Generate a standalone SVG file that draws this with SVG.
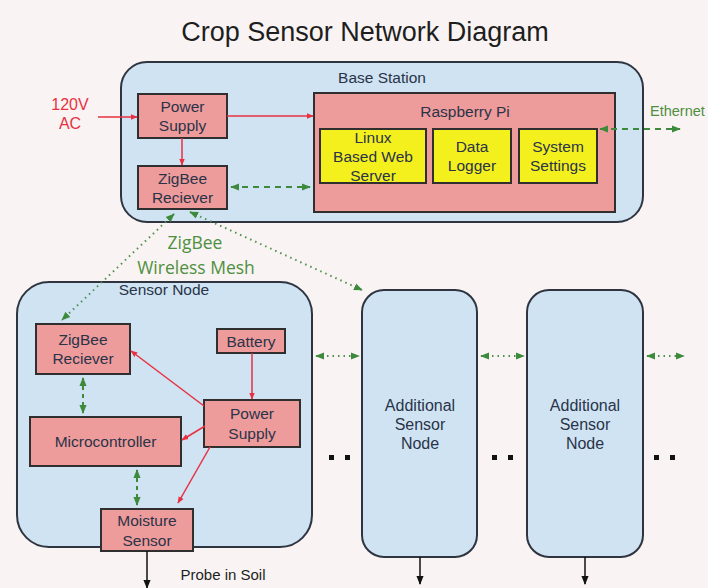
<svg xmlns="http://www.w3.org/2000/svg" width="708" height="588" viewBox="0 0 708 588">
<defs>
<style>
.t{font-family:"Liberation Sans",Arial,sans-serif;fill:#2a3348;text-anchor:middle;font-size:15.5px}
.cont{fill:#cfe3f3;stroke:#2f3540;stroke-width:2}
.box{fill:#ee9b9b;stroke:#2f2f2f;stroke-width:2}
.yel{fill:#f4f01e;stroke:#2f2f2f;stroke-width:2}
.red{stroke:#e83040;stroke-width:1.5;fill:none;marker-end:url(#ar)}
.grd{stroke:#3d8a3d;stroke-width:2;fill:none;stroke-dasharray:6 5;marker-end:url(#ag);marker-start:url(#ag)}
.gdot{stroke:#4f8f4f;stroke-width:2;fill:none;stroke-dasharray:1.5 4;marker-end:url(#ag);marker-start:url(#ag)}
.blk{stroke:#111;stroke-width:1.5;fill:none;marker-end:url(#ab)}
.g{font-family:"Open Sans","Liberation Sans",sans-serif;fill:#4f8f3f;text-anchor:middle;font-size:17.5px}
</style>
<marker id="ar" viewBox="0 0 10 10" refX="9" refY="5" markerWidth="7" markerHeight="7" markerUnits="userSpaceOnUse" orient="auto-start-reverse"><path d="M0,1 L10,5 L0,9 z" fill="#e83040"/></marker>
<marker id="ag" viewBox="0 0 10 10" refX="9" refY="5" markerWidth="9" markerHeight="9" markerUnits="userSpaceOnUse" orient="auto-start-reverse"><path d="M0,1 L10,5 L0,9 z" fill="#3d8a3d"/></marker>
<marker id="ab" viewBox="0 0 10 10" refX="9" refY="5" markerWidth="9" markerHeight="9" markerUnits="userSpaceOnUse" orient="auto-start-reverse"><path d="M0,1 L10,5 L0,9 z" fill="#111"/></marker>
</defs>
<rect width="708" height="588" fill="#f9f4f3"/>
<text x="365" y="41" class="t" style="font-size:27px;fill:#1e1e1e">Crop Sensor Network Diagram</text>

<g id="base-station">
<rect x="121" y="62" width="522" height="160" rx="26" class="cont"/>
<text x="382" y="83" class="t" style="font-size:15.5px">Base Station</text>
</g>
<g id="power-supply-base">
<rect x="138" y="94" width="89" height="44" class="box"/>
<text x="182.5" y="112" class="t">Power</text>
<text x="182.5" y="131" class="t">Supply</text>
</g>
<g id="zigbee-base">
<rect x="138" y="166" width="89" height="43" class="box"/>
<text x="182.5" y="184" class="t">ZigBee</text>
<text x="182.5" y="203" class="t">Reciever</text>
</g>
<g id="raspberry-pi">
<rect x="314" y="93" width="301" height="119" class="box"/>
<text x="465" y="117" class="t">Raspberry Pi</text>
</g>
<g id="web-server">
<rect x="320" y="129" width="106" height="54" class="yel"/>
<text x="373" y="143" class="t">Linux</text>
<text x="373" y="162" class="t">Based Web</text>
<text x="373" y="181" class="t">Server</text>
</g>
<g id="data-logger">
<rect x="433" y="129" width="78" height="54" class="yel"/>
<text x="472" y="152" class="t">Data</text>
<text x="472" y="171" class="t">Logger</text>
</g>
<g id="system-settings">
<rect x="519" y="129" width="78" height="54" class="yel"/>
<text x="558" y="152" class="t">System</text>
<text x="558" y="171" class="t">Settings</text>
</g>

<g id="sensor-node">
<rect x="17" y="282" width="295" height="265" rx="32" class="cont"/>
<text x="164" y="295" class="t">Sensor Node</text>
</g>
<g id="zigbee-sensor">
<rect x="36" y="324" width="94" height="50" class="box"/>
<text x="83" y="345" class="t">ZigBee</text>
<text x="83" y="364" class="t">Reciever</text>
</g>
<g id="battery">
<rect x="217" y="329" width="68" height="24" class="box"/>
<text x="251" y="347" class="t">Battery</text>
</g>
<g id="power-supply-sensor">
<rect x="204" y="400" width="96" height="47" class="box"/>
<text x="252" y="419" class="t">Power</text>
<text x="252" y="439" class="t">Supply</text>
</g>
<g id="microcontroller">
<rect x="30" y="417" width="151" height="49" class="box"/>
<text x="105.5" y="447" class="t">Microcontroller</text>
</g>
<g id="moisture-sensor">
<rect x="101" y="509" width="92" height="42" class="box"/>
<text x="147" y="526" class="t">Moisture</text>
<text x="147" y="546" class="t">Sensor</text>
</g>

<g id="additional-node-1">
<rect x="362" y="290" width="115" height="267" rx="22" class="cont"/>
<text x="420" y="411" class="t" style="font-size:16px">Additional</text>
<text x="420" y="430" class="t" style="font-size:16px">Sensor</text>
<text x="420" y="449" class="t" style="font-size:16px">Node</text>
</g>
<g id="additional-node-2">
<rect x="527" y="290" width="116" height="267" rx="22" class="cont"/>
<text x="585" y="411" class="t" style="font-size:16px">Additional</text>
<text x="585" y="430" class="t" style="font-size:16px">Sensor</text>
<text x="585" y="449" class="t" style="font-size:16px">Node</text>
</g>

<g id="labels">
<text x="70" y="110" class="t" style="font-size:16px;fill:#e83040">120V</text>
<text x="70" y="129" class="t" style="font-size:16px;fill:#e83040">AC</text>
<text x="650" y="116" style="font-size:14.5px;font-family:'Liberation Sans',Arial,sans-serif;fill:#4f8f3f">Ethernet</text>
<text x="195" y="249" class="g">ZigBee</text>
<text x="196" y="274" class="g">Wireless Mesh</text>
<text x="223" y="580" class="t" style="font-size:15px;fill:#1e1e1e">Probe in Soil</text>
</g>

<g id="connectors">
<line x1="98" y1="117" x2="137" y2="117" class="red"/>
<line x1="227" y1="116" x2="313" y2="116" class="red"/>
<line x1="182" y1="138" x2="182" y2="165" class="red"/>
<line x1="231" y1="187" x2="310" y2="187" class="grd"/>
<line x1="600" y1="129" x2="680" y2="129" class="grd"/>
<line x1="174" y1="214" x2="62" y2="320" class="gdot"/>
<line x1="190" y1="212" x2="362" y2="290" class="gdot"/>
<line x1="252" y1="353" x2="252" y2="399" class="red"/>
<line x1="204" y1="406" x2="131" y2="351" class="red"/>
<line x1="205" y1="426" x2="182" y2="440" class="red"/>
<line x1="210" y1="447" x2="178" y2="503" class="red"/>
<line x1="83" y1="378" x2="83" y2="413" class="grd" style="stroke-dasharray:4 4"/>
<line x1="137" y1="470" x2="137" y2="505" class="grd" style="stroke-dasharray:4 4"/>
<line x1="147" y1="551" x2="147" y2="588" class="blk"/>
<line x1="316" y1="356" x2="359" y2="356" class="gdot"/>
<line x1="481" y1="356" x2="524" y2="356" class="gdot"/>
<line x1="647" y1="356" x2="684" y2="356" class="gdot"/>
<line x1="420" y1="557" x2="420" y2="584" class="blk"/>
<line x1="585" y1="557" x2="585" y2="584" class="blk"/>
</g>
<g id="ellipsis" fill="#111">
<rect x="329" y="455" width="5" height="5"/><rect x="345" y="455" width="5" height="5"/>
<rect x="492" y="455" width="5" height="5"/><rect x="508" y="455" width="5" height="5"/>
<rect x="654" y="455" width="5" height="5"/><rect x="670" y="455" width="5" height="5"/>
</g>
</svg>
